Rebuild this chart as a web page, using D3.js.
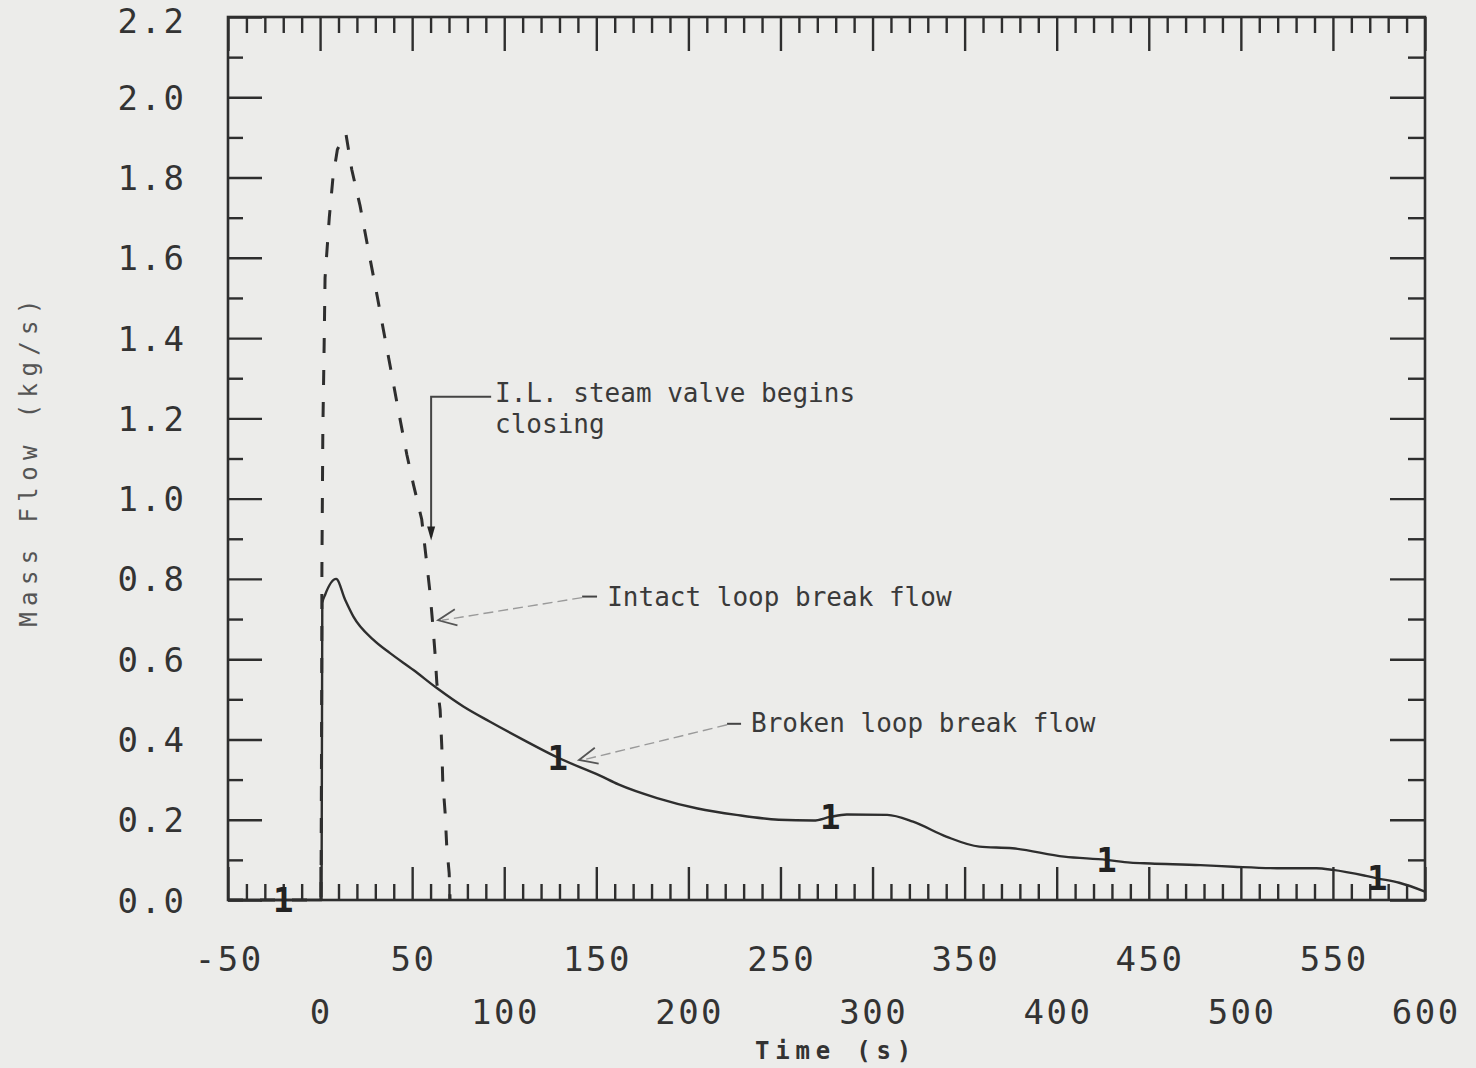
<!DOCTYPE html>
<html>
<head>
<meta charset="utf-8">
<script src="https://cdn.jsdelivr.net/npm/d3@7"></script>
<style>
  html, body { margin: 0; padding: 0; background: #ececea; }
  svg { display: block; }
  text { font-family: "DejaVu Sans Mono", "Liberation Mono", monospace; }
</style>
</head>
<body>
<svg id="chart" width="1476" height="1068"></svg>
<script>
// Broken loop break flow (solid trace), time in s, flow in kg/s
const brokenTime = [-50, 0.8, 1.2, 2.7, 8.7, 13.6, 18.1, 29, 38, 50.7, 63.4, 77.8, 92.3, 110.4, 129,
  152, 162, 183, 205, 226, 249, 268, 277, 286, 308, 322, 340, 358, 376, 404, 427, 440, 451, 478,
  496, 523, 541, 550, 568, 574, 586, 600];
const brokenFlow = [0, 0, 0.74, 0.76, 0.80, 0.748, 0.706, 0.648, 0.615, 0.573, 0.528, 0.482, 0.444, 0.399, 0.355,
  0.310, 0.288, 0.254, 0.228, 0.212, 0.200, 0.198, 0.207, 0.213, 0.212, 0.195, 0.158, 0.133, 0.129, 0.108, 0.100, 0.093, 0.091, 0.087,
  0.083, 0.079, 0.079, 0.075, 0.060, 0.054, 0.043, 0.021];

// Intact loop break flow (dashed trace)
const intactTime = [-50, 0.5, 0.8, 1.0, 1.5, 2.2, 2.7, 5.0, 7.0, 9.4, 14.0, 17.2, 21.7, 26.2, 30.8, 34.4,
  38.9, 42.5, 47.1, 50.7, 55.2, 57.9, 59.7, 61.3, 62.4, 63.4, 65.2, 66.1, 66.6, 67.9, 68.8, 70.1, 70.6];
const intactFlow = [0, 0, 0.40, 0.83, 1.17, 1.38, 1.55, 1.70, 1.80, 1.87, 1.91, 1.82, 1.73, 1.62, 1.51, 1.42,
  1.31, 1.22, 1.11, 1.035, 0.948, 0.840, 0.766, 0.681, 0.616, 0.541, 0.474, 0.382, 0.299, 0.217, 0.132, 0.067, 0];

// Curve identifier symbols placed along the broken loop trace
const markerTime = [-20, 129, 277, 427, 574];
const markerFlow = [0, 0.355, 0.207, 0.100, 0.054];
const markerSymbol = "1";

// Tick labels
const xLabelsUpper = [-50, 50, 150, 250, 350, 450, 550];
const xLabelsLower = [0, 100, 200, 300, 400, 500, 600];
const yLabels = [0.0, 0.2, 0.4, 0.6, 0.8, 1.0, 1.2, 1.4, 1.6, 1.8, 2.0, 2.2];

// Annotation texts and their anchors in data units (time, flow)
const valveLines = ["I.L. steam valve begins", "closing"];
const valveText = [95.0, 1.240];
const valveLeader = [[92.9, 1.254], [60.3, 1.254], [60.3, 0.905]];
const valveTip = [60.3, 0.896];

const intactLabel = "Intact loop break flow";
const intactText = [155.9, 0.733];
const intactDash = [[142.3, 0.756], [150.4, 0.756]];
const intactTip = [64.1, 0.697];

const brokenLabel = "Broken loop break flow";
const brokenText = [234.0, 0.419];
const brokenDash = [[221.0, 0.439], [228.6, 0.439]];
const brokenTip = [140.6, 0.349];

const xTitle = "Time (s)";
const yTitle = "Mass Flow (kg/s)";

// ---------------------------------------------------------------
const ink = "#2e2e2e";
const svg = d3.select("#chart");

const x = d3.scaleLinear().domain([-50, 600]).range([228, 1425]);
const y = d3.scaleLinear().domain([0, 2.2]).range([900, 17]);

const xMajor = d3.range(-50, 601, 50);
const xMinor = d3.range(-50, 601, 10).filter(v => v % 50 !== 0);
const yMajor = yLabels;
const yMinor = d3.range(1, 22, 2).map(v => v / 10);

// Inward tick marks on all four sides
function tickGroup(axis, transform) {
  const g = svg.append("g").attr("transform", transform).call(axis);
  g.select(".domain").remove();
  g.selectAll(".tick line").attr("stroke", ink).attr("stroke-width", 2.4);
  g.selectAll(".tick text").remove();
  return g;
}
const bottomY = y(0), topY = y(2.2), leftX = x(-50), rightX = x(600);
tickGroup(d3.axisTop(x).tickValues(xMinor).tickSize(16), `translate(0,${bottomY})`);
tickGroup(d3.axisTop(x).tickValues(xMajor).tickSize(33), `translate(0,${bottomY})`);
tickGroup(d3.axisBottom(x).tickValues(xMinor).tickSize(16), `translate(0,${topY})`);
tickGroup(d3.axisBottom(x).tickValues(xMajor).tickSize(34), `translate(0,${topY})`);
tickGroup(d3.axisRight(y).tickValues(yMinor).tickSize(15), `translate(${leftX},0)`);
tickGroup(d3.axisRight(y).tickValues(yMajor).tickSize(34), `translate(${leftX},0)`);
tickGroup(d3.axisLeft(y).tickValues(yMinor).tickSize(17), `translate(${rightX},0)`);
tickGroup(d3.axisLeft(y).tickValues(yMajor).tickSize(35), `translate(${rightX},0)`);

// Plot frame
svg.append("rect")
  .attr("x", leftX).attr("y", topY)
  .attr("width", rightX - leftX).attr("height", bottomY - topY)
  .attr("fill", "none").attr("stroke", ink).attr("stroke-width", 2.6);

// Tick labels
const labelFont = 34, labelSpacing = 2.5;
svg.append("g").selectAll("text").data(yLabels).join("text")
  .attr("x", 184 + labelSpacing)
  .attr("y", d => Math.max(y(d) + 12.5, 33))
  .attr("text-anchor", "end")
  .attr("font-size", labelFont)
  .attr("letter-spacing", labelSpacing)
  .attr("fill", "#333")
  .text(d => d3.format(".1f")(d));

function xLabelRow(values, baseline) {
  svg.append("g").selectAll("text").data(values).join("text")
    .attr("x", d => x(d) + labelSpacing / 2)
    .attr("y", baseline)
    .attr("text-anchor", "middle")
    .attr("font-size", labelFont)
    .attr("letter-spacing", labelSpacing)
    .attr("fill", "#333")
    .text(d => String(d));
}
xLabelRow(xLabelsUpper, 971);
xLabelRow(xLabelsLower, 1024);

// Axis titles
svg.append("text")
  .attr("x", 836).attr("y", 1059)
  .attr("text-anchor", "middle")
  .attr("font-size", 24).attr("font-weight", "bold")
  .attr("letter-spacing", 5.8)
  .attr("fill", "#333")
  .text(xTitle);

svg.append("text")
  .attr("transform", "translate(37,460) rotate(-90)")
  .attr("text-anchor", "middle")
  .attr("font-size", 24)
  .attr("letter-spacing", 6.4)
  .attr("fill", "#555")
  .text(yTitle);

// Traces
const brokenData = brokenTime.map((t, i) => [t, brokenFlow[i]]);
const intactData = intactTime.map((t, i) => [t, intactFlow[i]]);

svg.append("path")
  .datum(intactData)
  .attr("fill", "none").attr("stroke", ink)
  .attr("stroke-width", 3)
  .attr("stroke-dasharray", "15,17")
  .attr("d", d3.line().x(d => x(d[0])).y(d => y(d[1])));

svg.append("path")
  .datum(brokenData)
  .attr("fill", "none").attr("stroke", ink)
  .attr("stroke-width", 2.4)
  .attr("stroke-linejoin", "round")
  .attr("d", d3.line().x(d => x(d[0])).y(d => y(d[1])).curve(d3.curveMonotoneX));

// Curve identifier symbols
svg.append("g").selectAll("text").data(markerTime).join("text")
  .attr("x", d => x(d))
  .attr("y", (d, i) => y(markerFlow[i]) + 12)
  .attr("text-anchor", "middle")
  .attr("font-size", 34).attr("font-weight", "bold")
  .attr("fill", "#222")
  .text(markerSymbol);

// Annotations
const px = p => [x(p[0]), y(p[1])];
const annColor = "#3a3a3a";
const annFont = 26;

// valve closing note with right-angle leader and solid arrowhead
svg.append("g").selectAll("text").data(valveLines).join("text")
  .attr("x", x(valveText[0]))
  .attr("y", (d, i) => y(valveText[1]) + i * 31)
  .attr("font-size", annFont).attr("fill", annColor)
  .text(d => d);
svg.append("path")
  .attr("d", d3.line()(valveLeader.map(px)))
  .attr("fill", "none").attr("stroke", "#444").attr("stroke-width", 2);
{
  const [tx, ty] = px(valveTip);
  svg.append("path")
    .attr("d", `M${tx},${ty} L${tx - 4},${ty - 14} L${tx + 4},${ty - 14} Z`)
    .attr("fill", "#222");
}

// leader with short dash and open arrowhead
function leader(dash, tip, label, textPos) {
  const a = px(dash[0]), b = px(dash[1]), t = px(tip);
  svg.append("line")
    .attr("x1", a[0]).attr("y1", a[1]).attr("x2", b[0]).attr("y2", b[1])
    .attr("stroke", "#444").attr("stroke-width", 2);
  svg.append("line")
    .attr("x1", a[0]).attr("y1", a[1] + 1).attr("x2", t[0] + 4).attr("y2", t[1])
    .attr("stroke", "#9a9a9a").attr("stroke-width", 1.4)
    .attr("stroke-dasharray", "10,5");
  const ang = Math.atan2(a[1] - t[1], a[0] - t[0]);
  const len = 20, spread = 0.42;
  const p1 = [t[0] + len * Math.cos(ang + spread), t[1] + len * Math.sin(ang + spread)];
  const p2 = [t[0] + len * Math.cos(ang - spread), t[1] + len * Math.sin(ang - spread)];
  svg.append("path")
    .attr("d", `M${p1[0]},${p1[1]} L${t[0]},${t[1]} L${p2[0]},${p2[1]}`)
    .attr("fill", "none").attr("stroke", "#555").attr("stroke-width", 1.8);
  svg.append("text")
    .attr("x", x(textPos[0])).attr("y", y(textPos[1]))
    .attr("font-size", annFont).attr("fill", annColor)
    .text(label);
}
leader(intactDash, intactTip, intactLabel, intactText);
leader(brokenDash, brokenTip, brokenLabel, brokenText);
</script>
</body>
</html>
